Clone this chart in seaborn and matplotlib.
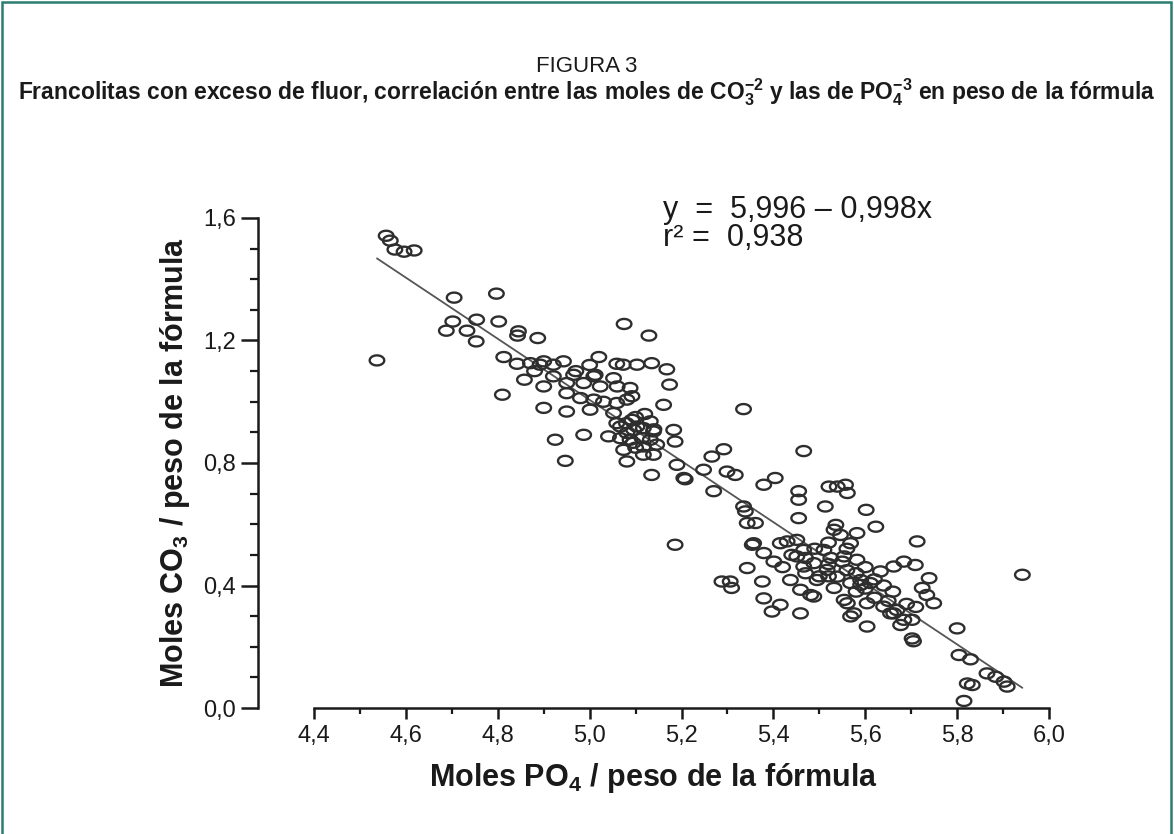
import numpy as np
import matplotlib
matplotlib.use("Agg")
import matplotlib.pyplot as plt
from matplotlib.path import Path
from matplotlib.patches import Rectangle
from matplotlib.ticker import MultipleLocator, FixedLocator
import seaborn as sns

# ---------------- data ----------------
po4 = [4.557, 4.566, 4.576, 4.596, 4.618, 4.537, 4.705, 4.797, 4.702, 4.754,
       4.802, 4.688, 4.733, 4.753, 4.845, 4.843, 4.887, 4.813, 4.842, 4.871,
       4.892, 4.900, 4.921, 4.943, 5.020, 5.059, 5.073, 5.103, 5.135, 5.168,
       5.174, 5.161, 5.075, 5.129, 4.858, 4.900, 4.921, 4.950, 4.965, 4.987,
       5.009, 5.023, 5.052, 5.088, 5.012, 4.950, 4.980, 5.009, 5.059, 5.081,
       5.092, 4.810, 4.900, 4.950, 5.001, 5.052, 5.067, 5.081, 5.096, 4.925,
       4.987, 5.041, 5.074, 4.947, 5.081, 5.095, 5.059, 5.092, 5.103, 5.117,
       5.132, 5.139, 5.067, 5.088, 5.114, 5.132, 5.117, 5.146, 5.117, 5.139,
       5.135, 5.183, 5.186, 5.190, 5.205, 5.248, 5.266, 5.292, 5.270, 5.299,
       5.317, 5.335, 5.335, 5.339, 5.343, 5.379, 5.404, 5.466, 5.455, 5.455,
       5.455, 5.513, 5.521, 5.539, 5.557, 5.561, 5.602, 5.623, 5.186, 5.354,
       5.379, 5.401, 5.415, 5.451, 5.451, 5.466, 5.437, 5.459, 5.488, 5.495,
       5.510, 5.517, 5.532, 5.546, 5.568, 5.582, 5.582, 5.554, 5.539, 5.568,
       5.590, 5.611, 5.633, 5.662, 5.481, 5.561, 5.575, 5.604, 5.640, 5.662,
       5.604, 5.288, 5.306, 5.309, 5.343, 5.376, 5.379, 5.415, 5.397, 5.459,
       5.536, 5.713, 5.361, 5.357, 5.430, 5.466, 5.525, 5.550, 5.684, 5.709,
       5.739, 5.724, 5.734, 5.749, 5.942, 5.532, 5.590, 5.488, 5.554, 5.568,
       5.655, 5.669, 5.684, 5.702, 5.677, 5.702, 5.705, 5.800, 5.804, 5.829,
       5.865, 5.884, 5.902, 5.909, 5.822, 5.833, 5.815, 5.208, 5.470, 5.500,
       5.520, 5.560, 5.580, 5.600, 5.620, 5.640, 5.520, 5.490, 5.420, 5.440,
       5.030, 5.060, 5.100, 5.120, 5.080, 4.970, 5.000, 4.880, 5.140, 5.100,
       5.620, 5.650, 5.660, 5.690, 5.710, 5.580, 5.600, 5.520, 5.470, 5.560]

co3 = [1.542, 1.526, 1.497, 1.490, 1.494, 1.135, 1.340, 1.353, 1.262, 1.268,
       1.262, 1.232, 1.232, 1.197, 1.230, 1.216, 1.208, 1.146, 1.124, 1.126,
       1.121, 1.132, 1.121, 1.132, 1.146, 1.124, 1.121, 1.121, 1.126, 1.106,
       1.056, 0.990, 1.254, 1.216, 1.072, 1.050, 1.083, 1.061, 1.088, 1.061,
       1.083, 1.050, 1.077, 1.045, 1.088, 1.028, 1.012, 1.007, 0.996, 1.007,
       1.018, 1.023, 0.980, 0.968, 0.974, 0.963, 0.919, 0.898, 0.908, 0.876,
       0.892, 0.887, 0.843, 0.807, 0.805, 0.866, 0.930, 0.941, 0.919, 0.914,
       0.936, 0.903, 0.881, 0.876, 0.881, 0.876, 0.854, 0.860, 0.827, 0.827,
       0.761, 0.908, 0.870, 0.794, 0.751, 0.778, 0.821, 0.845, 0.708, 0.772,
       0.761, 0.976, 0.658, 0.642, 0.604, 0.729, 0.751, 0.839, 0.708, 0.680,
       0.620, 0.658, 0.723, 0.723, 0.729, 0.702, 0.647, 0.592, 0.533, 0.533,
       0.506, 0.478, 0.538, 0.549, 0.495, 0.516, 0.418, 0.386, 0.473, 0.418,
       0.516, 0.451, 0.582, 0.565, 0.538, 0.571, 0.484, 0.495, 0.429, 0.408,
       0.418, 0.408, 0.446, 0.462, 0.369, 0.342, 0.309, 0.342, 0.331, 0.309,
       0.266, 0.413, 0.413, 0.392, 0.457, 0.413, 0.358, 0.337, 0.315, 0.309,
       0.598, 0.544, 0.604, 0.538, 0.544, 0.462, 0.490, 0.478, 0.478, 0.467,
       0.424, 0.392, 0.369, 0.342, 0.435, 0.392, 0.402, 0.364, 0.353, 0.299,
       0.309, 0.320, 0.288, 0.288, 0.271, 0.227, 0.218, 0.260, 0.173, 0.159,
       0.113, 0.102, 0.086, 0.070, 0.080, 0.075, 0.023, 0.747, 0.440, 0.430,
       0.470, 0.450, 0.440, 0.460, 0.420, 0.400, 0.540, 0.520, 0.460, 0.500,
       1.000, 1.050, 0.950, 0.960, 0.930, 1.100, 1.120, 1.100, 0.910, 0.850,
       0.360, 0.350, 0.380, 0.340, 0.330, 0.380, 0.390, 0.430, 0.490, 0.520]

fit_intercept = 5.996
fit_slope = -0.998

x_ticks = [4.4, 4.6, 4.8, 5.0, 5.2, 5.4, 5.6, 5.8, 6.0]
x_ticklabels = ["4,4", "4,6", "4,8", "5,0", "5,2", "5,4", "5,6", "5,8", "6,0"]
y_ticks = [0.0, 0.4, 0.8, 1.2, 1.6]
y_ticklabels = ["0,0", "0,4", "0,8", "1,2", "1,6"]

title_top = "FIGURA 3"
title_sub = (r"Francolitas con exceso de fluor, correlación entre las moles de "
             r"CO$_\mathbf{3}^\mathbf{-2}$ y las de PO$_\mathbf{4}^\mathbf{-3}$ "
             r"en peso de la fórmula")
xlabel = r"Moles PO$_\mathbf{4}$ / peso de la fórmula"
ylabel = r"Moles CO$_\mathbf{3}$ / peso de la fórmula"
eq_text = "y  =  5,996 – 0,998x\nr² =  0,938"

# ---------------- style ----------------
sns.set_theme(style="white")
plt.rcParams["font.family"] = ["Liberation Sans", "DejaVu Sans"]
plt.rcParams["mathtext.fontset"] = "custom"
plt.rcParams["mathtext.rm"] = "Liberation Sans"
plt.rcParams["mathtext.bf"] = "Liberation Sans:bold"
plt.rcParams["mathtext.it"] = "Liberation Sans:italic"

W, H = 1174, 834
fig = plt.figure(figsize=(W / 100, H / 100), dpi=100, facecolor="white")

left_px, right_px, bottom_px, top_px = 258, 1049, 708, 218
ax = fig.add_axes([left_px / W, 1 - bottom_px / H,
                   (right_px - left_px) / W, (bottom_px - top_px) / H])
ax.set_facecolor("white")

df = {"PO4": np.array(po4), "CO3": np.array(co3)}

theta = np.linspace(0, 2 * np.pi, 64)
ellipse = Path(np.column_stack([1.45 * np.cos(theta), np.sin(theta)]), closed=True)

sns.scatterplot(x=df["PO4"], y=df["CO3"], ax=ax, marker=ellipse, s=110,
                facecolor="none", edgecolor="#2e2e2e", linewidth=1.7,
                zorder=3, clip_on=False, legend=False)

xfit = np.array([min(po4), max(po4)])
ax.plot(xfit, fit_intercept + fit_slope * xfit, color="#555555", lw=1.3, zorder=2)

ax.set_xlim(4.278, 6.0)
ax.set_ylim(0, 1.6)

for s in ["top", "right"]:
    ax.spines[s].set_visible(False)
for s in ["left", "bottom"]:
    ax.spines[s].set_linewidth(1.8)
    ax.spines[s].set_color("#1a1a1a")
ax.spines["bottom"].set_bounds(4.4, 6.0)
ax.spines["left"].set_bounds(0, 1.6)

ax.xaxis.set_major_locator(FixedLocator(x_ticks))
ax.set_xticklabels(x_ticklabels)
ax.xaxis.set_minor_locator(FixedLocator([4.5, 4.7, 4.9, 5.1, 5.3, 5.5, 5.7, 5.9]))
ax.yaxis.set_major_locator(FixedLocator(y_ticks))
ax.set_yticklabels(y_ticklabels)
ax.yaxis.set_minor_locator(MultipleLocator(0.1))

ax.tick_params(axis="both", which="both", bottom=True, left=True, top=False, right=False)
ax.tick_params(axis="x", which="major", direction="out", length=8, width=1.8,
               color="#1a1a1a", labelsize=17, labelcolor="#1a1a1a", pad=4)
ax.tick_params(axis="x", which="minor", direction="out", length=4, width=1.6,
               color="#1a1a1a")
ax.tick_params(axis="y", which="major", direction="out", length=12, width=1.8,
               color="#1a1a1a", labelsize=17, labelcolor="#1a1a1a", pad=4)
ax.tick_params(axis="y", which="minor", direction="out", length=6, width=1.6,
               color="#1a1a1a")

ax.set_xlabel(xlabel, fontsize=22, fontweight="bold", color="#1a1a1a", labelpad=10)
ax.set_ylabel(ylabel, fontsize=22, fontweight="bold", color="#1a1a1a", labelpad=8)

fig.text(663 / W, 1 - 224 / H, eq_text, fontsize=22, color="#1a1a1a",
         ha="left", va="center", multialignment="left", linespacing=0.95)

fig.text(0.5, 1 - 66 / H, title_top, fontsize=16, color="#1a1a1a",
         ha="center", va="center")
fig.text(0.5, 1 - 92 / H, title_sub, fontsize=16.5, fontweight="bold", color="#1a1a1a",
         ha="center", va="center")

# teal frame around the figure
fig.patches.append(Rectangle((2 / W, -0.02), (W - 5) / W, 1.02 - 2.5 / H,
                             transform=fig.transFigure, fill=False,
                             edgecolor="#2a7d70", linewidth=1.8, zorder=10))

fig.savefig("out.png", dpi=100, facecolor="white")
